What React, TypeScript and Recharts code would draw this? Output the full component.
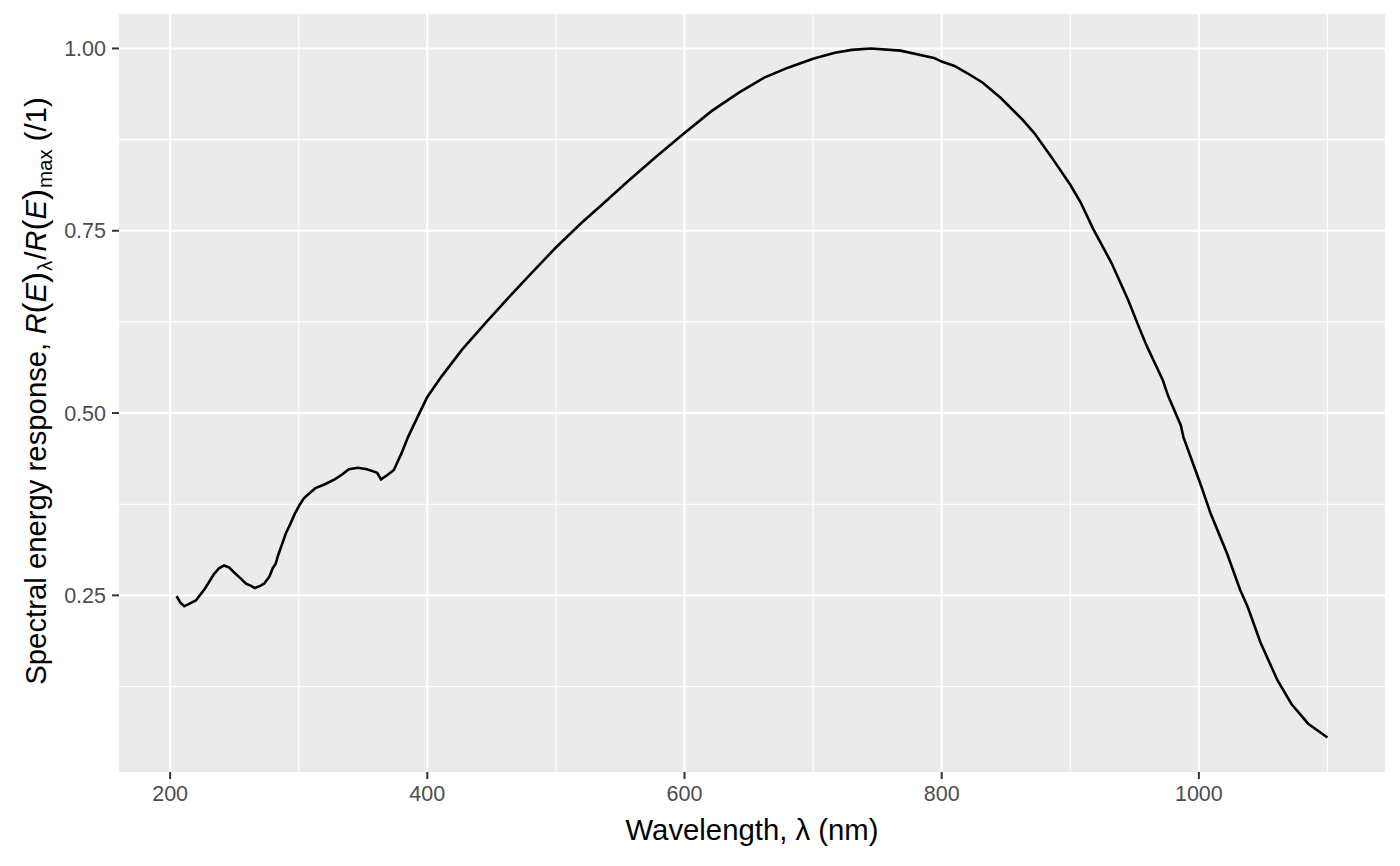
import React from "react";
import { LineChart, Line, XAxis, YAxis, CartesianGrid } from "recharts";

const wavelength = [
  205, 208, 211, 220, 227, 234, 238, 242, 246, 250, 255, 259, 263, 266, 270, 273, 277, 280, 282, 284,
  287, 290, 294, 297, 301, 304, 309, 313, 320, 328, 334, 339, 346, 353, 358, 361, 364, 369, 374, 380,
  385, 392, 400, 411, 427, 445, 463, 481, 500, 520, 536, 556, 577, 600, 621, 642, 662, 681, 700, 717,
  730, 745, 768, 794, 800, 810, 820, 832, 846, 862, 872, 885, 900, 908, 918, 932, 945, 955, 960, 972,
  976, 986, 988, 996, 1002, 1009, 1022, 1032, 1038, 1048, 1061, 1072, 1085, 1100,
];
const response = [
  0.249, 0.24, 0.235, 0.243, 0.259, 0.279, 0.287, 0.291, 0.288, 0.281, 0.273, 0.266, 0.263, 0.26, 0.263, 0.266, 0.275, 0.288, 0.293, 0.305,
  0.32, 0.335, 0.35, 0.362, 0.375, 0.383, 0.391, 0.397, 0.402, 0.409, 0.416, 0.423, 0.425, 0.423, 0.42, 0.418, 0.409, 0.415, 0.422, 0.445,
  0.467, 0.493, 0.522, 0.55, 0.587, 0.623, 0.658, 0.692, 0.727, 0.761, 0.786, 0.818, 0.85, 0.884, 0.914, 0.939, 0.96, 0.974, 0.986, 0.994,
  0.998, 1.0, 0.997, 0.987, 0.982, 0.976, 0.966, 0.953, 0.932, 0.904, 0.884, 0.852, 0.813, 0.789, 0.752, 0.706, 0.655, 0.611, 0.59, 0.545,
  0.524, 0.483, 0.467, 0.428, 0.399, 0.363, 0.307, 0.258, 0.234, 0.185, 0.134, 0.101, 0.074, 0.055,
];

const xMajor = [200, 400, 600, 800, 1000];
const xMinor = [300, 500, 700, 900, 1100];
const yMajor = [0.25, 0.5, 0.75, 1.0];
const yMinor = [0.125, 0.375, 0.625, 0.875];

const data = wavelength.map((w, i) => ({ w, r: response[i] }));

const FONT = '"Liberation Sans", Arial, sans-serif';
const TICK_FS = 21.5;
const TITLE_FS = 29.3;
const SUB_FS = TITLE_FS * 0.7;
const PAREN_FS = TITLE_FS * 1.12;

export default function App() {
  return (
    <div style={{ position: "absolute", left: 0, top: 0, width: 1400, height: 866, background: "#fff" }}>
      <LineChart width={1400} height={866} data={data} margin={{ top: 14, right: 15, bottom: 0, left: 0 }}>
        <CartesianGrid
          fill="#EBEBEB"
          stroke="#FFFFFF"
          strokeWidth={1.1}
          horizontalValues={yMinor}
          verticalValues={xMinor}
        />
        <CartesianGrid
          stroke="#FFFFFF"
          strokeWidth={2.1}
          horizontalValues={yMajor}
          verticalValues={xMajor}
        />
        <XAxis
          dataKey="w"
          type="number"
          domain={[160.25, 1144.75]}
          ticks={xMajor}
          allowDataOverflow
          height={94}
          axisLine={false}
          tickSize={7}
          tickMargin={7}
          tickLine={{ stroke: "#333333", strokeWidth: 2 }}
          tick={{ fill: "#4D4D4D", fontSize: TICK_FS, fontFamily: FONT }}
        />
        <YAxis
          type="number"
          domain={[0.00775, 1.04725]}
          ticks={yMajor}
          allowDataOverflow
          width={119}
          axisLine={false}
          tickSize={7}
          tickMargin={6}
          tickLine={{ stroke: "#333333", strokeWidth: 2 }}
          tick={{ fill: "#4D4D4D", fontSize: TICK_FS, fontFamily: FONT }}
          tickFormatter={(v: number) => v.toFixed(2)}
        />
        <Line
          type="linear"
          dataKey="r"
          stroke="#000000"
          strokeWidth={2.6}
          dot={false}
          activeDot={false}
          isAnimationActive={false}
        />
        <text x={752} y={840} textAnchor="middle" fontSize={TITLE_FS} fontFamily={FONT} fill="#000">
          Wavelength, λ (nm)
        </text>
        <text
          transform="translate(46, 391) rotate(-90)"
          textAnchor="middle"
          fontSize={TITLE_FS}
          fontFamily={FONT}
          fill="#000"
        >
          <tspan>Spectral energy response, </tspan>
          <tspan fontStyle="italic">R</tspan>
          <tspan fontSize={PAREN_FS}>(</tspan>
          <tspan fontStyle="italic">E</tspan>
          <tspan fontSize={PAREN_FS}>)</tspan>
          <tspan fontSize={SUB_FS} dy={6} dx={1}>λ</tspan>
          <tspan dy={-6} dx={1}>/</tspan>
          <tspan fontStyle="italic">R</tspan>
          <tspan fontSize={PAREN_FS}>(</tspan>
          <tspan fontStyle="italic">E</tspan>
          <tspan fontSize={PAREN_FS}>)</tspan>
          <tspan fontSize={SUB_FS} dy={6} dx={1}>max</tspan>
          <tspan dy={-6}> (/1)</tspan>
        </text>
      </LineChart>
    </div>
  );
}
